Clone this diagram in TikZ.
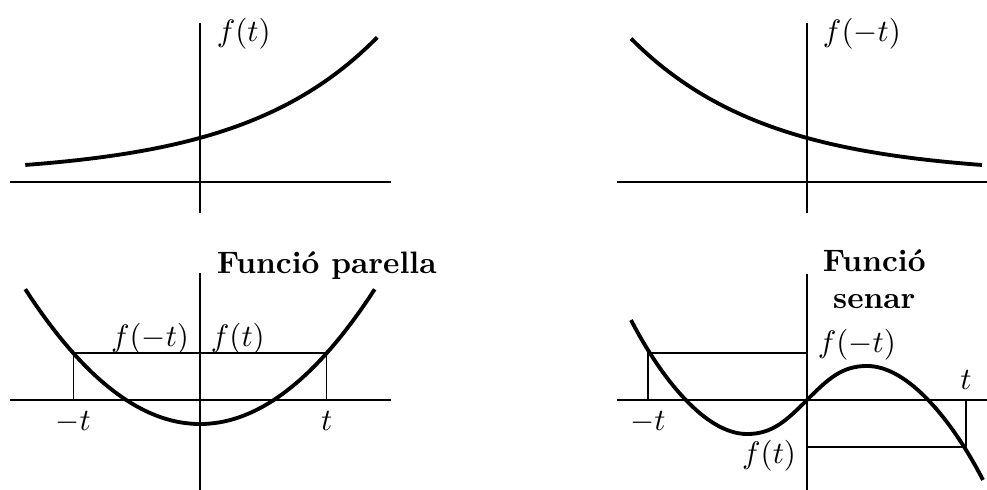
\documentclass[tikz,border=0pt]{standalone}
\usepackage{fontspec}
\usepackage{tikz}
\usepackage{amsmath}

\begin{document}
\begin{tikzpicture}[
    every node/.style={scale=1.05},
    axis/.style={line width=0.4pt},
    curve/.style={line width=1.3pt, line join=round},
    guide/.style={line width=0.4pt},
    title/.style={font=\bfseries, align=center}
]
\useasboundingbox (0,0) rectangle (11.75,5.833);

% ============ f(t) (TOP LEFT) ============
\begin{scope}[shift={(2.381,3.667)}]
\draw[axis] (-2.26,0) -- (2.27,0);
\draw[axis] (0,-0.37) -- (0,1.89);
\draw[curve] plot[domain=-2.08:2.11, samples=60, smooth] (\x, {0.079+0.445*exp(0.619*\x)});
\node[right] (ftl) at (0.07,1.76) {$f(t)$};
\end{scope}

% ============ f(-t) (TOP RIGHT) ============
\begin{scope}[shift={(9.607,3.667)}]
\draw[axis] (-2.26,0) -- (2.27,0);
\draw[axis] (0,-0.37) -- (0,1.89);
\draw[curve] plot[domain=-2.095:2.083, samples=60, smooth] (\x, {0.079+0.445*exp(-0.619*\x)});
\node[right] (ftr) at (0.06,1.76) {$f(-t)$};
\end{scope}

% ============ EVEN FUNCTION (BOTTOM LEFT) ============
\begin{scope}[shift={(2.381,1.071)}]
\draw[axis] (-2.26,0) -- (2.27,0);
\draw[axis] (0,-1.2) -- (0,1.51);
\draw[guide] (-1.51,0) -- (-1.51,0.56) -- (1.51,0.56) -- (1.51,0);
\draw[curve] plot[domain=-2.08:2.08, samples=60, smooth] (\x, {-0.286+0.371*\x*\x});
\node[title, right] (even) at (0.07,1.6) {Funció parella};
\node[below] (mtl) at (-1.51,0) {$-t$};
\node[below] (ptl) at (1.51,0) {$t$};
\node[left] (fml) at (0,0.73) {$f(-t)$};
\node[right] (fpl) at (0,0.73) {$f(t)$};
\end{scope}

% ============ ODD FUNCTION (BOTTOM RIGHT) ============
\begin{scope}[shift={(9.607,1.071)}]
\draw[axis] (-2.26,0) -- (2.27,0);
\draw[axis] (0,-1.2) -- (0,1.5);
\draw[guide] (-1.893,0) -- (-1.893,0.56) -- (0,0.56);
\draw[guide] (0,-0.56) -- (1.893,-0.56) -- (1.893,0);
\draw[curve] (-2.095,0.952) .. controls (-1.745,0.273) and (-1.214,-0.405) .. (-0.714,-0.405)
    .. controls (-0.414,-0.405) and (-0.25,-0.25) .. (0,0)
    .. controls (0.25,0.25) and (0.414,0.405) .. (0.714,0.405)
    .. controls (1.214,0.405) and (1.745,-0.273) .. (2.095,-0.952);
\node[title, right] (odd) at (0.06,1.44) {Funció\\senar};
\node[below] (mtr) at (-1.893,0) {$-t$};
\node[above] (ptr) at (1.893,0) {$t$};
\node[right] (fmr) at (0,0.66) {$f(-t)$};
\node[left] (fpr) at (0,-0.66) {$f(t)$};
\end{scope}

\end{tikzpicture}
\end{document}
